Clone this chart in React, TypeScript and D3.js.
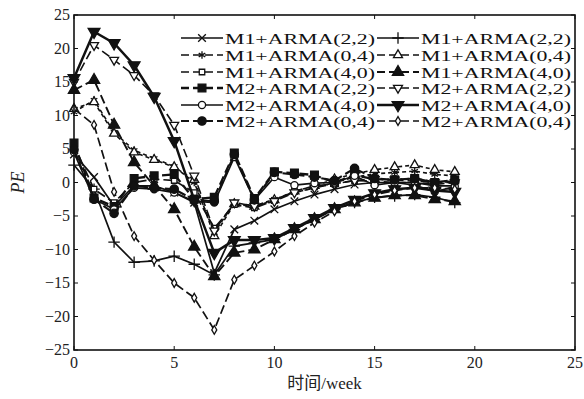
import React from 'react';
import * as d3 from 'd3';

const weeks = d3.range(0, 20);

const seriesNames = [
  'M1+ARMA(2,2)', 'M1+ARMA(2,2)',
  'M1+ARMA(0,4)', 'M1+ARMA(0,4)',
  'M1+ARMA(4,0)', 'M1+ARMA(4,0)',
  'M2+ARMA(2,2)', 'M2+ARMA(2,2)',
  'M2+ARMA(4,0)', 'M2+ARMA(4,0)',
  'M2+ARMA(0,4)', 'M2+ARMA(0,4)',
];

const s1 = [4.2, 0.8, -3.5, -0.5, -0.5, -1.5, -3, -13.5, -7, -5.7, -4, -2.8, -1.8, -1, -0.3, 0, 0, 0, -0.5, -0.5];
const s2 = [2.6, -1, -8.9, -11.9, -11.7, -11, -12.2, -13.8, -9.5, -9, -8.5, -7, -5.5, -4, -3, -2.2, -2, -1.8, -2.2, -3];
const s3 = [10.5, 12.3, 7.5, 4.8, 3.6, 2.4, 0, -7.5, -3, -3.5, -2.5, -1.5, -0.8, 0, 0.8, 1.3, 1.5, 1.7, 1.2, 1];
const s4 = [11, 12, 7.3, 4.5, 3.4, 2.3, 0.4, -8, -3.2, -3.6, -2.6, -1.3, -0.5, 0.5, 1.3, 1.9, 2.3, 2.6, 1.9, 1.6];
const s5 = [5.5, -1, -3, 0, 0.5, 0.3, -1.5, -6.8, -3.3, -3.8, -2.7, -1.3, -0.5, -0.2, 0.3, 0.2, 0, 0, -0.3, 0];
const s6 = [13.8, 15.3, 8.6, 3, -0.5, -4, -9.6, -14, -10.5, -10, -8.5, -7, -5.5, -4, -3, -2.3, -1.9, -1.9, -2.5, -2.8];
const s7 = [5.9, -2.3, -3.6, 0.6, 1, 1.2, -2.5, -2.2, 4.4, -2.4, 1.6, 1.4, 1.1, 0, 1.1, 0.5, 0.4, 0.6, 0, 0.4];
const s8 = [15, 20.5, 18.3, 16, 13, 8.6, 1, -7.2, -3, -3.5, -2.8, -1.5, -0.8, -0.2, 0.3, 0.5, 0.4, 0.2, 0, 0];
const s9 = [4.5, -2.5, -4, -0.8, -1, -1.5, -2.8, -3, 3.8, -2.6, 0.8, -0.4, -0.1, 0, 1, -0.4, 0, -0.4, -1.4, -0.6];
const s10 = [15.6, 22.5, 20.8, 17.5, 12.8, 6.2, -2.6, -10.5, -8.6, -8.6, -8.3, -6.8, -5.3, -3.8, -2.6, -1.6, -1, -0.8, -1.2, -1.4];
const s11 = [4.9, -2.5, -4.6, -0.5, -0.8, -1, -2.6, -2.8, 4.2, -2.6, 1.5, 1.2, 0.8, 0.3, 2.1, 0.6, 0.4, 0.6, 0, 0.2];
const s12 = [11, 8.6, -1.4, -8, -11.6, -15, -17.2, -22, -14.5, -12.4, -10.3, -8, -6, -4.3, -2.8, -1.8, -1.2, -0.8, -0.8, -1];

const allSeries = [s1, s2, s3, s4, s5, s6, s7, s8, s9, s10, s11, s12];

const xTicks = [0, 5, 10, 15, 20, 25];
const yTicks = [-25, -20, -15, -10, -5, 0, 5, 10, 15, 20, 25];

// marker style for each series
const styles = [
  { sym: d3.symbolTimes, fill: false, size: 40, dash: '', width: 1.7 },
  { sym: d3.symbolPlus, fill: false, size: 45, dash: '', width: 1.7 },
  { sym: d3.symbolAsterisk, fill: false, size: 40, dash: '4,3', width: 1.6 },
  { sym: d3.symbolTriangle, fill: false, size: 35, dash: '4,3', width: 1.6 },
  { sym: d3.symbolSquare, fill: false, size: 30, dash: '9,4', width: 1.7 },
  { sym: d3.symbolTriangle, fill: true, size: 55, dash: '9,4', width: 1.9 },
  { sym: d3.symbolSquare, fill: true, size: 60, dash: '9,4', width: 2.3 },
  { sym: d3.symbolTriangle, fill: false, size: 35, dash: '9,4', width: 1.6, rot: 180 },
  { sym: d3.symbolCircle, fill: false, size: 40, dash: '', width: 1.7 },
  { sym: d3.symbolTriangle, fill: true, size: 60, dash: '', width: 2.5, rot: 180 },
  { sym: d3.symbolCircle, fill: true, size: 55, dash: '9,4', width: 2.1 },
  { sym: d3.symbolDiamond, fill: false, size: 22, dash: '9,4', width: 1.7 },
];

const W = 584;
const H = 399;
const m = { left: 74, right: 9, top: 15, bottom: 49 };

const App: React.FC = () => {
  const x = d3.scaleLinear().domain([0, 25]).range([m.left, W - m.right]);
  const y = d3.scaleLinear().domain([-25, 25]).range([H - m.bottom, m.top]);
  const line = d3.line<number>().x((_, i) => x(weeks[i])).y(d => y(d));
  const font = '"Liberation Serif", "DejaVu Serif", serif';

  const marker = (i: number, cx: number, cy: number, key: string) => {
    const st = styles[i];
    const p = d3.symbol(st.sym, st.size)() as string;
    return (
      <path key={key} d={p}
        transform={`translate(${cx},${cy}) rotate(${st.rot || 0})`}
        fill={st.fill ? '#111' : '#fff'} stroke="#111" strokeWidth={1.3} />
    );
  };

  const legRows = [38, 55, 72, 88, 105, 121];

  return (
    <div style={{ position: 'fixed', left: 0, top: 0 }}>
      <svg width={W} height={H} style={{ display: 'block', background: '#fff' }}>
        {allSeries.map((s, i) => (
          <g key={i}>
            <path d={line(s) as string} fill="none" stroke="#111"
              strokeWidth={styles[i].width} strokeDasharray={styles[i].dash} />
            {s.map((v, j) => marker(i, x(weeks[j]), y(v), `${i}-${j}`))}
          </g>
        ))}

        {/* legend */}
        {seriesNames.map((name, i) => {
          const col = i % 2;
          const row = Math.floor(i / 2);
          const lx = col === 0 ? 181 : 377;
          const ly = legRows[row];
          return (
            <g key={'l' + i}>
              <line x1={lx} x2={lx + 42} y1={ly} y2={ly} stroke="#111"
                strokeWidth={styles[i].width} strokeDasharray={styles[i].dash ? '8,4' : ''} />
              {marker(i, lx + 21, ly, 'lm' + i)}
              <text x={lx + 44} y={ly + 5.5} fontFamily={font} fontSize={15}
                textLength={150} lengthAdjust="spacingAndGlyphs" fill="#111">{name}</text>
            </g>
          );
        })}

        {/* frame */}
        <rect x={m.left} y={m.top} width={W - m.left - m.right} height={H - m.top - m.bottom}
          fill="none" stroke="#111" strokeWidth={1.6} />
        {xTicks.map(t => (
          <g key={'x' + t}>
            <line x1={x(t)} x2={x(t)} y1={y(-25)} y2={y(-25) - 4} stroke="#111" />
            <line x1={x(t)} x2={x(t)} y1={y(25)} y2={y(25) + 4} stroke="#111" />
            <text x={x(t)} y={y(-25) + 18} textAnchor="middle" fontFamily={font}
              fontSize={16} fill="#222">{t}</text>
          </g>
        ))}
        {yTicks.map(t => (
          <g key={'y' + t}>
            <line x1={x(0)} x2={x(0) + 4} y1={y(t)} y2={y(t)} stroke="#111" />
            <line x1={x(25)} x2={x(25) - 4} y1={y(t)} y2={y(t)} stroke="#111" />
            <text x={x(0) - 4} y={y(t) + 5} textAnchor="end" fontFamily={font}
              fontSize={16} fill="#222">{t < 0 ? '\u2212' + Math.abs(t) : t}</text>
          </g>
        ))}

        <text x={(x(0) + x(25)) / 2} y={389} textAnchor="middle" fontSize={17} fill="#222">
          <tspan fontFamily='"Noto Sans CJK SC", sans-serif'>时间</tspan>
          <tspan fontFamily={font}>/week</tspan>
        </text>
        <text transform={`translate(24,${y(0)}) rotate(-90)`} textAnchor="middle"
          fontFamily={font} fontStyle="italic" fontSize={18} fill="#222">PE</text>
      </svg>
    </div>
  );
};

export default App;
